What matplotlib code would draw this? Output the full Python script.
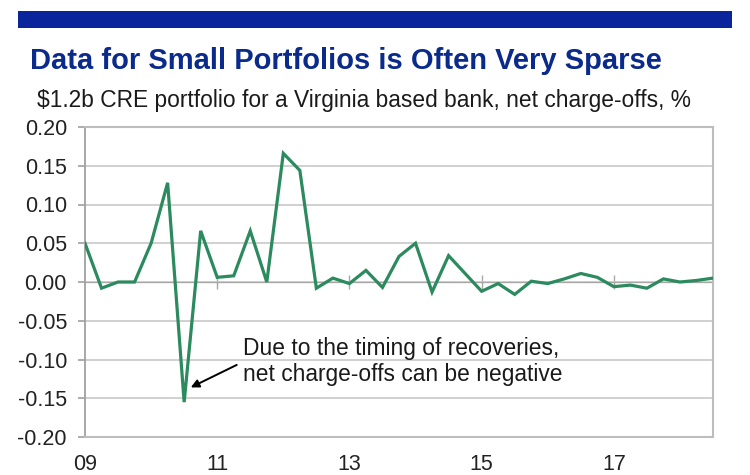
import matplotlib
matplotlib.use("Agg")
import matplotlib.pyplot as plt
from matplotlib.patches import Rectangle

plt.rcParams['font.family'] = ['Liberation Sans', 'DejaVu Sans']

# ---- data ----
title = "Data for Small Portfolios is Often Very Sparse"
subtitle = "\\$1.2b CRE portfolio for a Virginia based bank, net charge-offs, %"
note = "Due to the timing of recoveries,\nnet charge-offs can be negative"

quarters = list(range(39))  # 2009Q1 .. 2018Q3
net_charge_offs = [0.050, -0.008, 0.000, 0.000, 0.050, 0.128, -0.155, 0.066,
                   0.006, 0.008, 0.066, 0.000, 0.166, 0.144, -0.008, 0.005,
                   -0.002, 0.015, -0.007, 0.033, 0.050, -0.013, 0.034, 0.011,
                   -0.012, -0.002, -0.016, 0.001, -0.002, 0.004, 0.011, 0.006,
                   -0.006, -0.004, -0.008, 0.004, 0.000, 0.002, 0.005]
x_tick_pos = [0, 8, 16, 24, 32]
x_tick_labels = ["09", "11", "13", "15", "17"]
y_ticks = [-0.20, -0.15, -0.10, -0.05, 0.00, 0.05, 0.10, 0.15, 0.20]
y_tick_labels = [f"{v:.2f}" for v in y_ticks]

# annotation anchor (the negative quarter) and arrow tail
arrow_head = (6.4, -0.136)
arrow_tail = (9.18, -0.107)
note_pos = (9.55, -0.1025)

# ---- figure ----
fig = plt.figure(figsize=(7.5, 4.75), dpi=100)
fig.patch.set_facecolor('white')

# top blue banner
fig.patches.append(Rectangle((18/750, 1-28/475), (732-18)/750, 17/475,
                             transform=fig.transFigure, facecolor='#0a249c',
                             edgecolor='none'))

fig.text(30/750, 1-61/475, title, fontsize=21, fontweight='bold',
         color='#0a2a8c', ha='left', va='center')
fig.text(37/750, 1-100/475, subtitle, fontsize=16.4, color='#1a1a1a',
         ha='left', va='center')

ax = fig.add_axes([85/750, 1-437/475, (713-85)/750, (437-127)/475])
ax.plot(quarters, net_charge_offs, color='#2b8a5e', lw=2.3, zorder=3,
        solid_joinstyle='miter')

ax.set_xlim(0, 38)
ax.set_ylim(-0.20, 0.20)
ax.set_yticks(y_ticks)
ax.set_yticklabels(y_tick_labels)
ax.set_xticks(x_tick_pos)
ax.set_xticklabels(x_tick_labels)

ax.grid(axis='y', color='#c8c8c8', lw=1.2)
ax.set_axisbelow(True)

for side in ['top', 'right', 'bottom']:
    ax.spines[side].set_color('#bdbdbd')
    ax.spines[side].set_linewidth(1.5)
ax.spines['left'].set_color('#a0a0a0')
ax.spines['left'].set_linewidth(1.3)

ax.tick_params(axis='y', length=5, width=1.2, color='#a0a0a0', pad=8,
               labelsize=15.5, labelcolor='#222222')
ax.tick_params(axis='x', length=0, pad=12, labelsize=15.5, labelcolor='#222222')

# zero-line category ticks
sec = ax.secondary_xaxis(0.5)
sec.set_xticks(x_tick_pos[1:])
sec.set_xticklabels([])
sec.spines['bottom'].set_visible(False)
sec.tick_params(axis='x', direction='inout', length=10, width=1.0,
                color='#a8a8a8')

ax.text(note_pos[0], note_pos[1], note, fontsize=16.4, color='#1a1a1a',
        ha='left', va='center', linespacing=1.2)
ax.annotate("", xy=arrow_head, xytext=arrow_tail,
            arrowprops=dict(arrowstyle='-|>', color='black', lw=1.4,
                            mutation_scale=12, shrinkA=0, shrinkB=0))

fig.savefig("out.png", dpi=100, facecolor='white')
